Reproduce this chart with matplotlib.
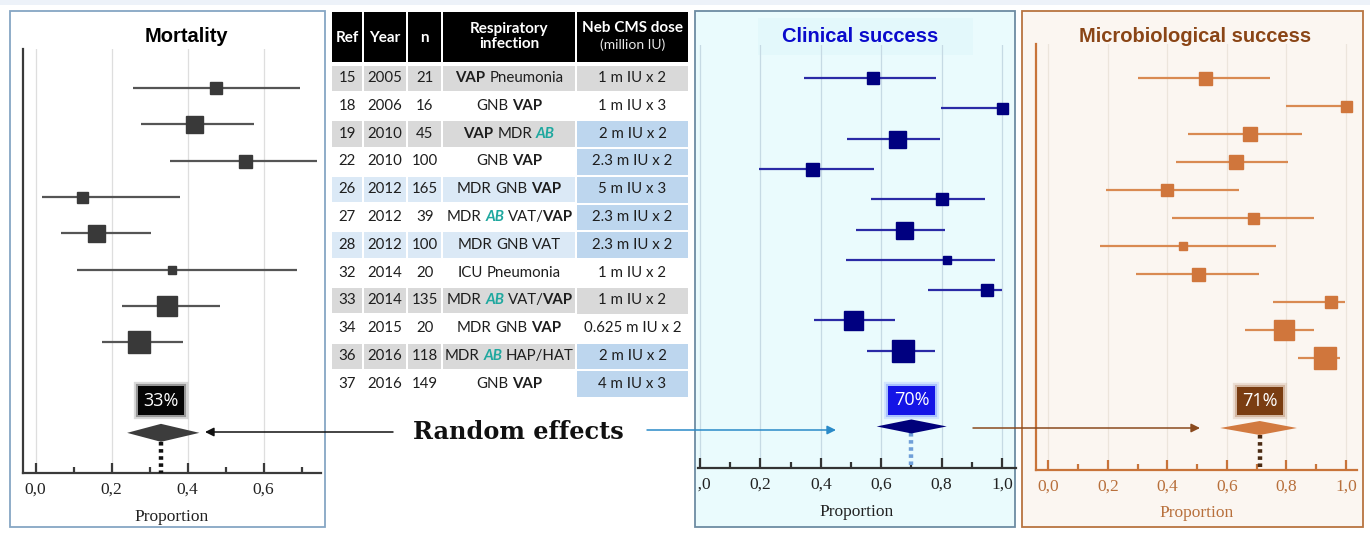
import re
import matplotlib
matplotlib.use("Agg")
import matplotlib.pyplot as plt
import matplotlib.patheffects as pe
from matplotlib.patches import Rectangle
from matplotlib.transforms import Bbox, TransformedBbox

W, H = 1370, 535

# ---- study table ----
refs = ["15", "18", "19", "22", "26", "27", "28", "32", "33", "34", "36", "37"]
years = ["2005", "2006", "2010", "2010", "2012", "2012", "2012", "2014", "2014", "2015", "2016", "2016"]
n_pat = ["21", "16", "45", "100", "165", "39", "100", "20", "135", "20", "118", "149"]
infection = ["**VAP** Pneumonia", "GNB **VAP**", "**VAP** MDR *AB*", "GNB **VAP**",
             "MDR GNB **VAP**", "MDR *AB* VAT/**VAP**", "MDR GNB VAT", "ICU Pneumonia",
             "MDR *AB* VAT/**VAP**", "MDR GNB **VAP**", "MDR *AB* HAP/HAT", "GNB **VAP**"]
doses = ["1 m IU x 2", "1 m IU x 3", "2 m IU x 2", "2.3 m IU x 2", "5 m IU x 3", "2.3 m IU x 2",
         "2.3 m IU x 2", "1 m IU x 2", "1 m IU x 2", "0.625 m IU x 2", "2 m IU x 2", "4 m IU x 3"]
row_shade = ["gray", "", "gray", "", "light", "", "light", "", "gray", "", "gray", ""]
dose_shade = ["gray", "", "blue", "blue", "blue", "blue", "blue", "", "gray", "", "blue", "blue"]

# ---- forest plots: estimate, CI low, CI high, box size (px) ----
mort_est = [0.474, 0.418, 0.552, 0.123, 0.160, 0.360, 0.346, 0.271]
mort_lo = [0.256, 0.277, 0.353, 0.016, 0.068, 0.109, 0.228, 0.175]
mort_hi = [0.697, 0.575, 0.740, 0.380, 0.304, 0.687, 0.484, 0.387]
mort_w = [12, 17, 13, 11, 17, 8, 20, 22]
mort_pool = [0.33, 0.241, 0.431]

clin_est = [0.572, 1.0, 0.651, 0.370, 0.800, 0.675, 0.819, 0.951, 0.508, 0.672]
clin_lo = [0.344, 0.797, 0.486, 0.195, 0.566, 0.516, 0.483, 0.755, 0.377, 0.554]
clin_hi = [0.783, 1.0, 0.796, 0.575, 0.945, 0.812, 0.978, 1.0, 0.645, 0.779]
clin_w = [12, 11, 17, 13, 12, 17, 8, 12, 19, 22]
clin_pool = [0.70, 0.585, 0.817]

micro_est = [0.525, 1.0, 0.679, 0.629, 0.400, 0.687, 0.453, 0.502, 0.948, 0.792, 0.929]
micro_lo = [0.300, 0.798, 0.469, 0.428, 0.194, 0.416, 0.172, 0.295, 0.754, 0.662, 0.837]
micro_hi = [0.743, 1.0, 0.852, 0.805, 0.641, 0.891, 0.766, 0.709, 0.998, 0.892, 0.981]
micro_w = [13, 11, 14, 14, 12, 11, 8, 13, 12, 20, 22]
micro_pool = [0.71, 0.577, 0.835]

SANS = ["Liberation Sans", "DejaVu Sans"]
SERIF = ["Liberation Serif", "DejaVu Serif"]
TAB = ["Lato", "DejaVu Sans"]

fig = plt.figure(figsize=(W / 100, H / 100), dpi=100)
fig.patch.set_facecolor("white")


def overlay(z):
    a = fig.add_axes([0, 0, 1, 1], zorder=z)
    a.set_xlim(0, W)
    a.set_ylim(H, 0)
    a.axis("off")
    return a


def px_rect(x0, y0, x1, y1):
    return [x0 / W, 1 - y1 / H, (x1 - x0) / W, (y1 - y0) / H]


bg = overlay(-1)
top = overlay(5)

# background frames
bg.add_patch(Rectangle((0, 0), W, 5, fc="#edf2f9", ec="none"))
bg.add_patch(Rectangle((10, 11), 315, 516, fc="white", ec="#86a6c4", lw=1.3))
bg.add_patch(Rectangle((695, 11), 320, 516, fc="#eafbfd", ec="#6d8ca3", lw=1.3))
bg.add_patch(Rectangle((758, 18), 215, 37, fc="#e3f8fb", ec="none"))
bg.add_patch(Rectangle((1022, 11), 341, 516, fc="#fbf6f1", ec="#b87440", lw=1.3))


def forest(rect, xlim, row0, step, est, lo, hi, wts, pool, st):
    x0, y0, x1, y1 = rect
    ax = fig.add_axes(px_rect(x0, y0, x1, y1))
    ax.patch.set_alpha(0)
    n = len(est)
    rows = list(range(n))
    yd = n + 1.5
    for y, e, l, h, w in zip(rows, est, lo, hi, wts):
        ax.plot([l, h], [y, y], color=st["line"], lw=1.6, solid_capstyle="butt", zorder=3)
        ax.plot(e, y, marker="s", ms=w * 0.72, color=st["box"], mec=st["box"], zorder=4)
    pe_, pl, ph = pool
    hh = st["dia_h"] / step
    ax.fill([pl, pe_, ph, pe_], [yd, yd - hh, yd, yd + hh], color=st["dia"], lw=0, zorder=4)
    ylo = (y1 - row0) / step
    ax.plot([pe_, pe_], [yd + hh, ylo], color=st["dot"], lw=3.2,
            linestyle=(0, (0.8, 0.8)), zorder=3, clip_on=False)
    lab = ax.annotate(f"{pe_ * 100:.0f}%", xy=(pe_, yd), xytext=(0, st["lab_off"] * 0.72),
                      textcoords="offset points", ha="center", va="center", color="white",
                      fontsize=13, family=["Open Sans", "DejaVu Sans"], zorder=6,
                      bbox=dict(boxstyle="square,pad=0.3", fc=st["lab"], ec="none"))
    lab.get_bbox_patch().set_path_effects([
        pe.withStroke(linewidth=6, foreground=st["glow"], alpha=0.15),
        pe.withStroke(linewidth=3, foreground=st["glow"], alpha=0.3),
        pe.Normal()])
    ax.set_xlim(*xlim)
    ax.set_ylim(ylo, (y0 - row0) / step)
    ax.set_yticks([])
    ax.set_xticks(st["major"])
    ax.set_xticks(st["minor"], minor=True)
    ax.set_xticklabels([f"{v:.1f}".replace(".", ",") for v in st["major"]])
    ax.tick_params(axis="x", which="both", direction="in", color=st["spine"], width=1.6,
                   labelsize=12.5, labelcolor=st["tick"], pad=6)
    ax.tick_params(axis="x", which="major", length=7.5)
    ax.tick_params(axis="x", which="minor", length=4.5)
    for t in ax.get_xticklabels():
        t.set_fontfamily(SERIF)
    for s in ["top", "right"]:
        ax.spines[s].set_visible(False)
    ax.spines["left"].set_visible(st["left"])
    for s in ["left", "bottom"]:
        ax.spines[s].set_color(st["spine"])
        ax.spines[s].set_linewidth(1.6)
    ax.grid(axis="x", which="major", color=st["grid"], lw=0.9)
    ax.set_axisbelow(True)
    ax.set_xlabel("Proportion", fontsize=12.5, family=SERIF, color=st["tick"])
    ax.xaxis.set_label_coords(0.5, -(st["xlab_y"] - y1) / (y1 - y0))
    ax.xaxis.label.set_va("center")
    return ax


mort_ax = forest((23, 49, 321, 473), (-0.033, 0.751), 88, 36.3,
                 mort_est, mort_lo, mort_hi, mort_w, mort_pool,
                 dict(line="#555555", box="#393939", dia="#3c3c3c", dot="#111111",
                      lab="#050505", glow="#000000", lab_off=32, dia_h=9,
                      major=[0, 0.2, 0.4, 0.6], minor=[0.1, 0.3, 0.5, 0.7],
                      spine="#3a3a3a", tick="#222222", grid="#dedede", left=True, xlab_y=517))

clin_ax = forest((698, 45, 1016, 468), (-0.0066, 1.0464), 78, 30.3,
                 clin_est, clin_lo, clin_hi, clin_w, clin_pool,
                 dict(line="#2a2aa6", box="#000080", dia="#00007a", dot="#6f9fd8",
                      lab="#1414e6", glow="#4a6cff", lab_off=26, dia_h=7,
                      major=[0, 0.2, 0.4, 0.6, 0.8, 1.0], minor=[0.1, 0.3, 0.5, 0.7, 0.9],
                      spine="#333333", tick="#222222", grid="#c6dae4", left=False, xlab_y=512))
clip = TransformedBbox(Bbox([[698 / W, 0], [1014 / W, 1]]), fig.transFigure)
for t in clin_ax.get_xticklabels():
    t.set_clip_box(clip)
    t.set_clip_on(True)

micro_ax = forest((1036, 44, 1357, 470), (-0.042, 1.037), 78, 28,
                  micro_est, micro_lo, micro_hi, micro_w, micro_pool,
                  dict(line="#d98a52", box="#d0763c", dia="#d27a40", dot="#4a2a12",
                       lab="#7a3d12", glow="#9a5a2a", lab_off=27, dia_h=7,
                       major=[0, 0.2, 0.4, 0.6, 0.8, 1.0], minor=[0.1, 0.3, 0.5, 0.7, 0.9],
                       spine="#c8743a", tick="#b8703c", grid="#ece5dc", left=True, xlab_y=513))

# panel titles
top.text(186, 37, "Mortality", ha="center", va="center", fontsize=14.5, weight="bold",
         family=SANS, color="black")
top.text(860, 37, "Clinical success", ha="center", va="center", fontsize=14.5, weight="bold",
         family=SANS, color="#0a0acc")
top.text(1195, 37, "Microbiological success", ha="center", va="center", fontsize=14.5,
         weight="bold", family=SANS, color="#8a4516")

# ---- table ----
cols = [(332, 362.5), (364, 406), (408, 441.5), (443, 575.5), (577, 688)]
shade = {"gray": "#d9d9d9", "light": "#dbe9f6", "blue": "#bdd6ee"}
for c0, c1 in cols:
    bg.add_patch(Rectangle((c0, 12), c1 - c0, 50, fc="black", ec="none"))
hdr = dict(ha="center", va="center", color="white", family=TAB, weight="bold", fontsize=11)
bg.text(sum(cols[0]) / 2, 38, "Ref", **hdr)
bg.text(sum(cols[1]) / 2, 38, "Year", **hdr)
bg.text(sum(cols[2]) / 2, 38, "n", **hdr)
bg.text(sum(cols[3]) / 2, 29, "Respiratory", **hdr)
bg.text(sum(cols[3]) / 2, 44, "infection", **hdr)
bg.text(sum(cols[4]) / 2, 28, "Neb CMS dose", **hdr)
bg.text(sum(cols[4]) / 2, 45, "(million IU)", ha="center", va="center", color="#e6e6e6",
        family=TAB, fontsize=10)

renderer = fig.canvas.get_renderer()
FS = 10.8
TXT = "#1e1e1e"


def width(t):
    return t.get_window_extent(renderer).width


probe_a = bg.text(0, 0, "n n", fontsize=FS, family=TAB)
probe_b = bg.text(0, 0, "nn", fontsize=FS, family=TAB)
space = width(probe_a) - width(probe_b)
probe_a.remove()
probe_b.remove()


def styled(markup, xc, yc):
    # words split by spaces; **x** bold, *x* teal bold italic
    items = []
    for wi, word in enumerate(markup.split(" ")):
        first = True
        for part in re.split(r"(\*\*[^*]+\*\*|\*[^*]+\*)", word):
            if not part:
                continue
            kw = dict(fontsize=FS, family=TAB, va="center", ha="left", color=TXT)
            if part.startswith("**"):
                part, kw["weight"] = part[2:-2], "bold"
            elif part.startswith("*"):
                part = part[1:-1]
                kw.update(weight="bold", style="italic", color="#1fa89f")
            t = bg.text(0, yc, part, **kw)
            if not items:
                gap = 0
            elif first:
                gap = space
            else:
                gap = -2
            items.append((t, gap))
            first = False
    total = sum(g + width(t) for t, g in items)
    x = xc - total / 2
    for t, g in items:
        x += g
        t.set_x(x)
        x += width(t)


for i in range(len(refs)):
    yc = 78 + 27.8 * i
    if row_shade[i]:
        for c0, c1 in cols[:4]:
            bg.add_patch(Rectangle((c0, yc - 12.5), c1 - c0, 25.5, fc=shade[row_shade[i]], ec="none"))
    if dose_shade[i]:
        c0, c1 = cols[4]
        bg.add_patch(Rectangle((c0, yc - 12.5), c1 - c0, 25.9, fc=shade[dose_shade[i]], ec="none"))
    cell = dict(ha="center", va="center", fontsize=FS, family=TAB, color=TXT)
    bg.text(sum(cols[0]) / 2, yc, refs[i], **cell)
    bg.text(sum(cols[1]) / 2, yc, years[i], **cell)
    bg.text(sum(cols[2]) / 2, yc, n_pat[i], **cell)
    styled(infection[i], sum(cols[3]) / 2, yc)
    bg.text(sum(cols[4]) / 2, yc, doses[i], **cell)

# ---- random effects callout ----
top.text(518, 432, "Random effects", ha="center", va="center", fontsize=17.3, weight="bold",
         family=["DejaVu Serif"], color="#111111")
top.annotate("", xy=(205, 432), xytext=(393, 432),
             arrowprops=dict(arrowstyle="-|>", color="#111111", lw=1.1, mutation_scale=13,
                             shrinkA=0, shrinkB=0))
top.annotate("", xy=(836, 430), xytext=(647, 430),
             arrowprops=dict(arrowstyle="-|>", color="#2a8ac8", lw=1.1, mutation_scale=13,
                             shrinkA=0, shrinkB=0))
top.annotate("", xy=(1200, 428), xytext=(973, 428),
             arrowprops=dict(arrowstyle="-|>", color="#8a4a1e", lw=1.1, mutation_scale=13,
                             shrinkA=0, shrinkB=0))

fig.savefig("out.png", dpi=100)
